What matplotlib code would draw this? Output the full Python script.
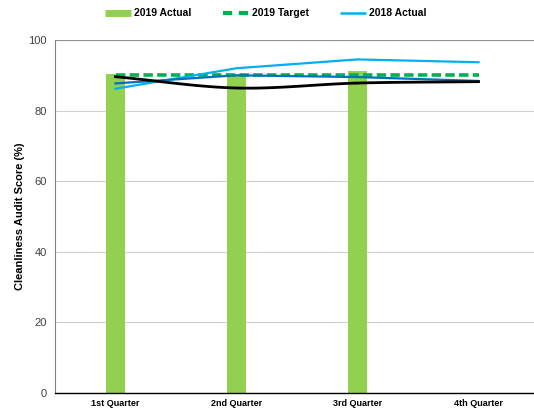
import numpy as np
import matplotlib
matplotlib.use("Agg")
import matplotlib.pyplot as plt
from matplotlib.lines import Line2D

plt.rcParams['font.family'] = ['Liberation Sans', 'DejaVu Sans']

quarters = ["1st Quarter", "2nd Quarter", "3rd Quarter", "4th Quarter"]
actual_2019 = [90.4, 90.0, 91.2]
target_2019 = [90.0, 90.0, 90.0, 90.0]
actual_2018 = [86.2, 92.0, 94.5, 93.7]
blue_series = [87.7, 90.0, 89.5, 88.4]
trend_series = [89.6, 86.4, 87.8, 88.2]

y_ticks = [0, 20, 40, 60, 80, 100]


def smooth(xs, ys, n=40):
    """Catmull-Rom spline through the points (smoothed line)."""
    xs = np.asarray(xs, float)
    ys = np.asarray(ys, float)
    px = np.concatenate([[2 * xs[0] - xs[1]], xs, [2 * xs[-1] - xs[-2]]])
    py = np.concatenate([[2 * ys[0] - ys[1]], ys, [2 * ys[-1] - ys[-2]]])
    out_x, out_y = [], []
    for i in range(1, len(px) - 2):
        t = np.linspace(0, 1, n)
        for arr, out in ((px, out_x), (py, out_y)):
            p0, p1, p2, p3 = arr[i - 1], arr[i], arr[i + 1], arr[i + 2]
            seg = 0.5 * ((2 * p1) + (-p0 + p2) * t
                         + (2 * p0 - 5 * p1 + 4 * p2 - p3) * t ** 2
                         + (-p0 + 3 * p1 - 3 * p2 + p3) * t ** 3)
            out.extend(seg)
    return np.array(out_x), np.array(out_y)


fig = plt.figure(figsize=(5.34, 4.11), dpi=100)
ax = fig.add_axes([55 / 534, 18 / 411, 484 / 534, 353 / 411])

x = np.arange(len(quarters))

ax.bar(x[:len(actual_2019)], actual_2019, width=0.165, color="#92D050", zorder=2)
ax.plot(x, target_2019, color="#00B050", lw=2.6, dashes=(2.6, 1.2), zorder=3)
ax.plot(x, actual_2018, color="#00B0F0", lw=1.6, zorder=4)
ax.plot(x, blue_series, color="#0070C0", lw=1.6, zorder=4)
sx, sy = smooth(x, trend_series)
ax.plot(sx, sy, color="black", lw=2.0, zorder=5)

ax.set_xlim(-0.5, 3.5)
ax.set_ylim(0, 100)
ax.set_yticks(y_ticks)
ax.set_xticks(x)
ax.set_xticklabels(quarters, fontsize=6.5, fontweight="bold")
ax.tick_params(axis="y", labelsize=8, length=0, pad=6, colors="#404040")
ax.tick_params(axis="x", length=0, pad=4)
ax.grid(axis="y", color="#d0d0d0", lw=0.8, zorder=0)
ax.set_axisbelow(True)

for s in ("top", "right"):
    ax.spines[s].set_visible(False)
ax.spines["left"].set_color("#808080")
ax.spines["bottom"].set_color("black")
ax.spines["bottom"].set_linewidth(1.0)
ax.axhline(100, color="#909090", lw=1.5, zorder=1)

ax.set_ylabel("Cleanliness Audit Score (%)", fontsize=8, fontweight="bold", labelpad=2)

handles = [
    Line2D([], [], color="#92D050", lw=5, solid_capstyle="butt"),
    Line2D([], [], color="#00B050", lw=3, dashes=(2.2, 1.6)),
    Line2D([], [], color="#00B0F0", lw=1.8, solid_capstyle="butt"),
]
fig.legend(handles, ["2019 Actual", "2019 Target", "2018 Actual"],
           loc="center", bbox_to_anchor=(266 / 534, 1 - 13.5 / 411), ncol=3,
           frameon=False, prop={"size": 7.5, "weight": "bold"},
           handlelength=2.5, handletextpad=0.3, columnspacing=3.0)

fig.savefig("out.png", dpi=100)
